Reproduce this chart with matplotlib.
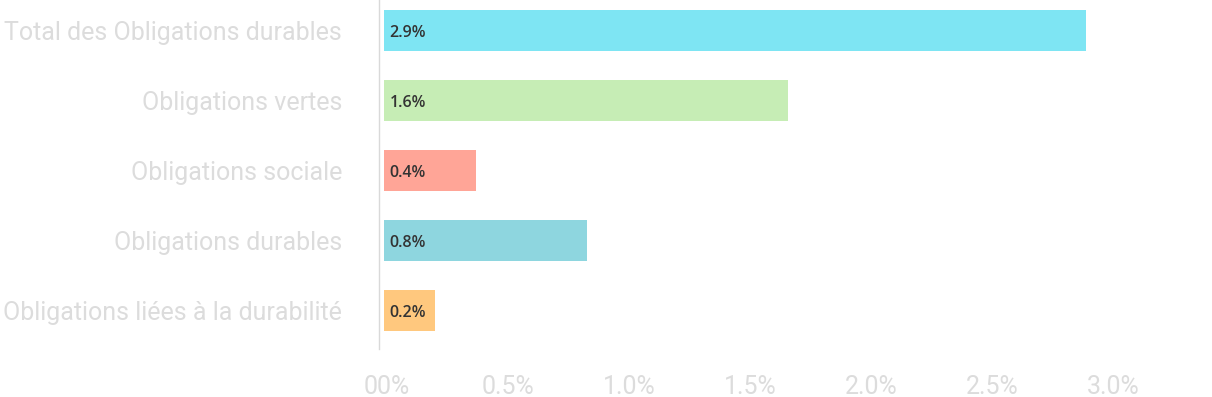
import matplotlib
matplotlib.use("Agg")
import matplotlib.pyplot as plt
from matplotlib.transforms import ScaledTranslation

# données
categories = ["Total des Obligations durables", "Obligations vertes", "Obligations sociale",
              "Obligations durables", "Obligations liées à la durabilité"]
values = [2.90, 1.67, 0.38, 0.84, 0.21]
value_labels = ["2.9%", "1.6%", "0.4%", "0.8%", "0.2%"]
colors = ["#7ee5f3", "#c6edb5", "#ffa597", "#8ed6df", "#ffc87e"]
x_ticks = [0.0, 0.5, 1.0, 1.5, 2.0, 2.5, 3.0]
x_tick_labels = ["00%", "0.5%", "1.0%", "1.5%", "2.0%", "2.5%", "3.0%"]

fig = plt.figure(figsize=(12.12, 3.97), dpi=100)
ax = fig.add_axes([0.3131, 0.1209, 0.664, 0.8791])

y = list(range(len(categories)))
ax.barh(y, values, height=0.585, color=colors)

# étiquettes dans les barres
for yi, v, lab in zip(y, values, value_labels):
    ax.text(0.022, yi + 0.03, lab, va="center", ha="left", fontsize=11.5,
            family=["Open Sans", "DejaVu Sans"], weight="semibold", color="#333333")

ax.set_xlim(-0.0186, 3.306)
ax.set_ylim(4.55, -0.436)

ax.set_yticks(y)
ax.set_yticklabels(categories, family="Roboto", fontsize=18, color="#dcdcdc")
ax.set_xticks(x_ticks)
ax.set_xticklabels(x_tick_labels, family="Roboto", fontsize=18, color="#dcdcdc")
ax.tick_params(axis="y", length=0, pad=27)
ax.tick_params(axis="x", length=0, pad=18.5)
shift = ScaledTranslation(3 / 100, 0, fig.dpi_scale_trans)
for t in ax.get_xticklabels():
    t.set_transform(t.get_transform() + shift)

for s in ["top", "right", "bottom"]:
    ax.spines[s].set_visible(False)
ax.spines["left"].set_color("#d9d9d9")
ax.spines["left"].set_linewidth(1)

fig.savefig("out.png", dpi=100)
